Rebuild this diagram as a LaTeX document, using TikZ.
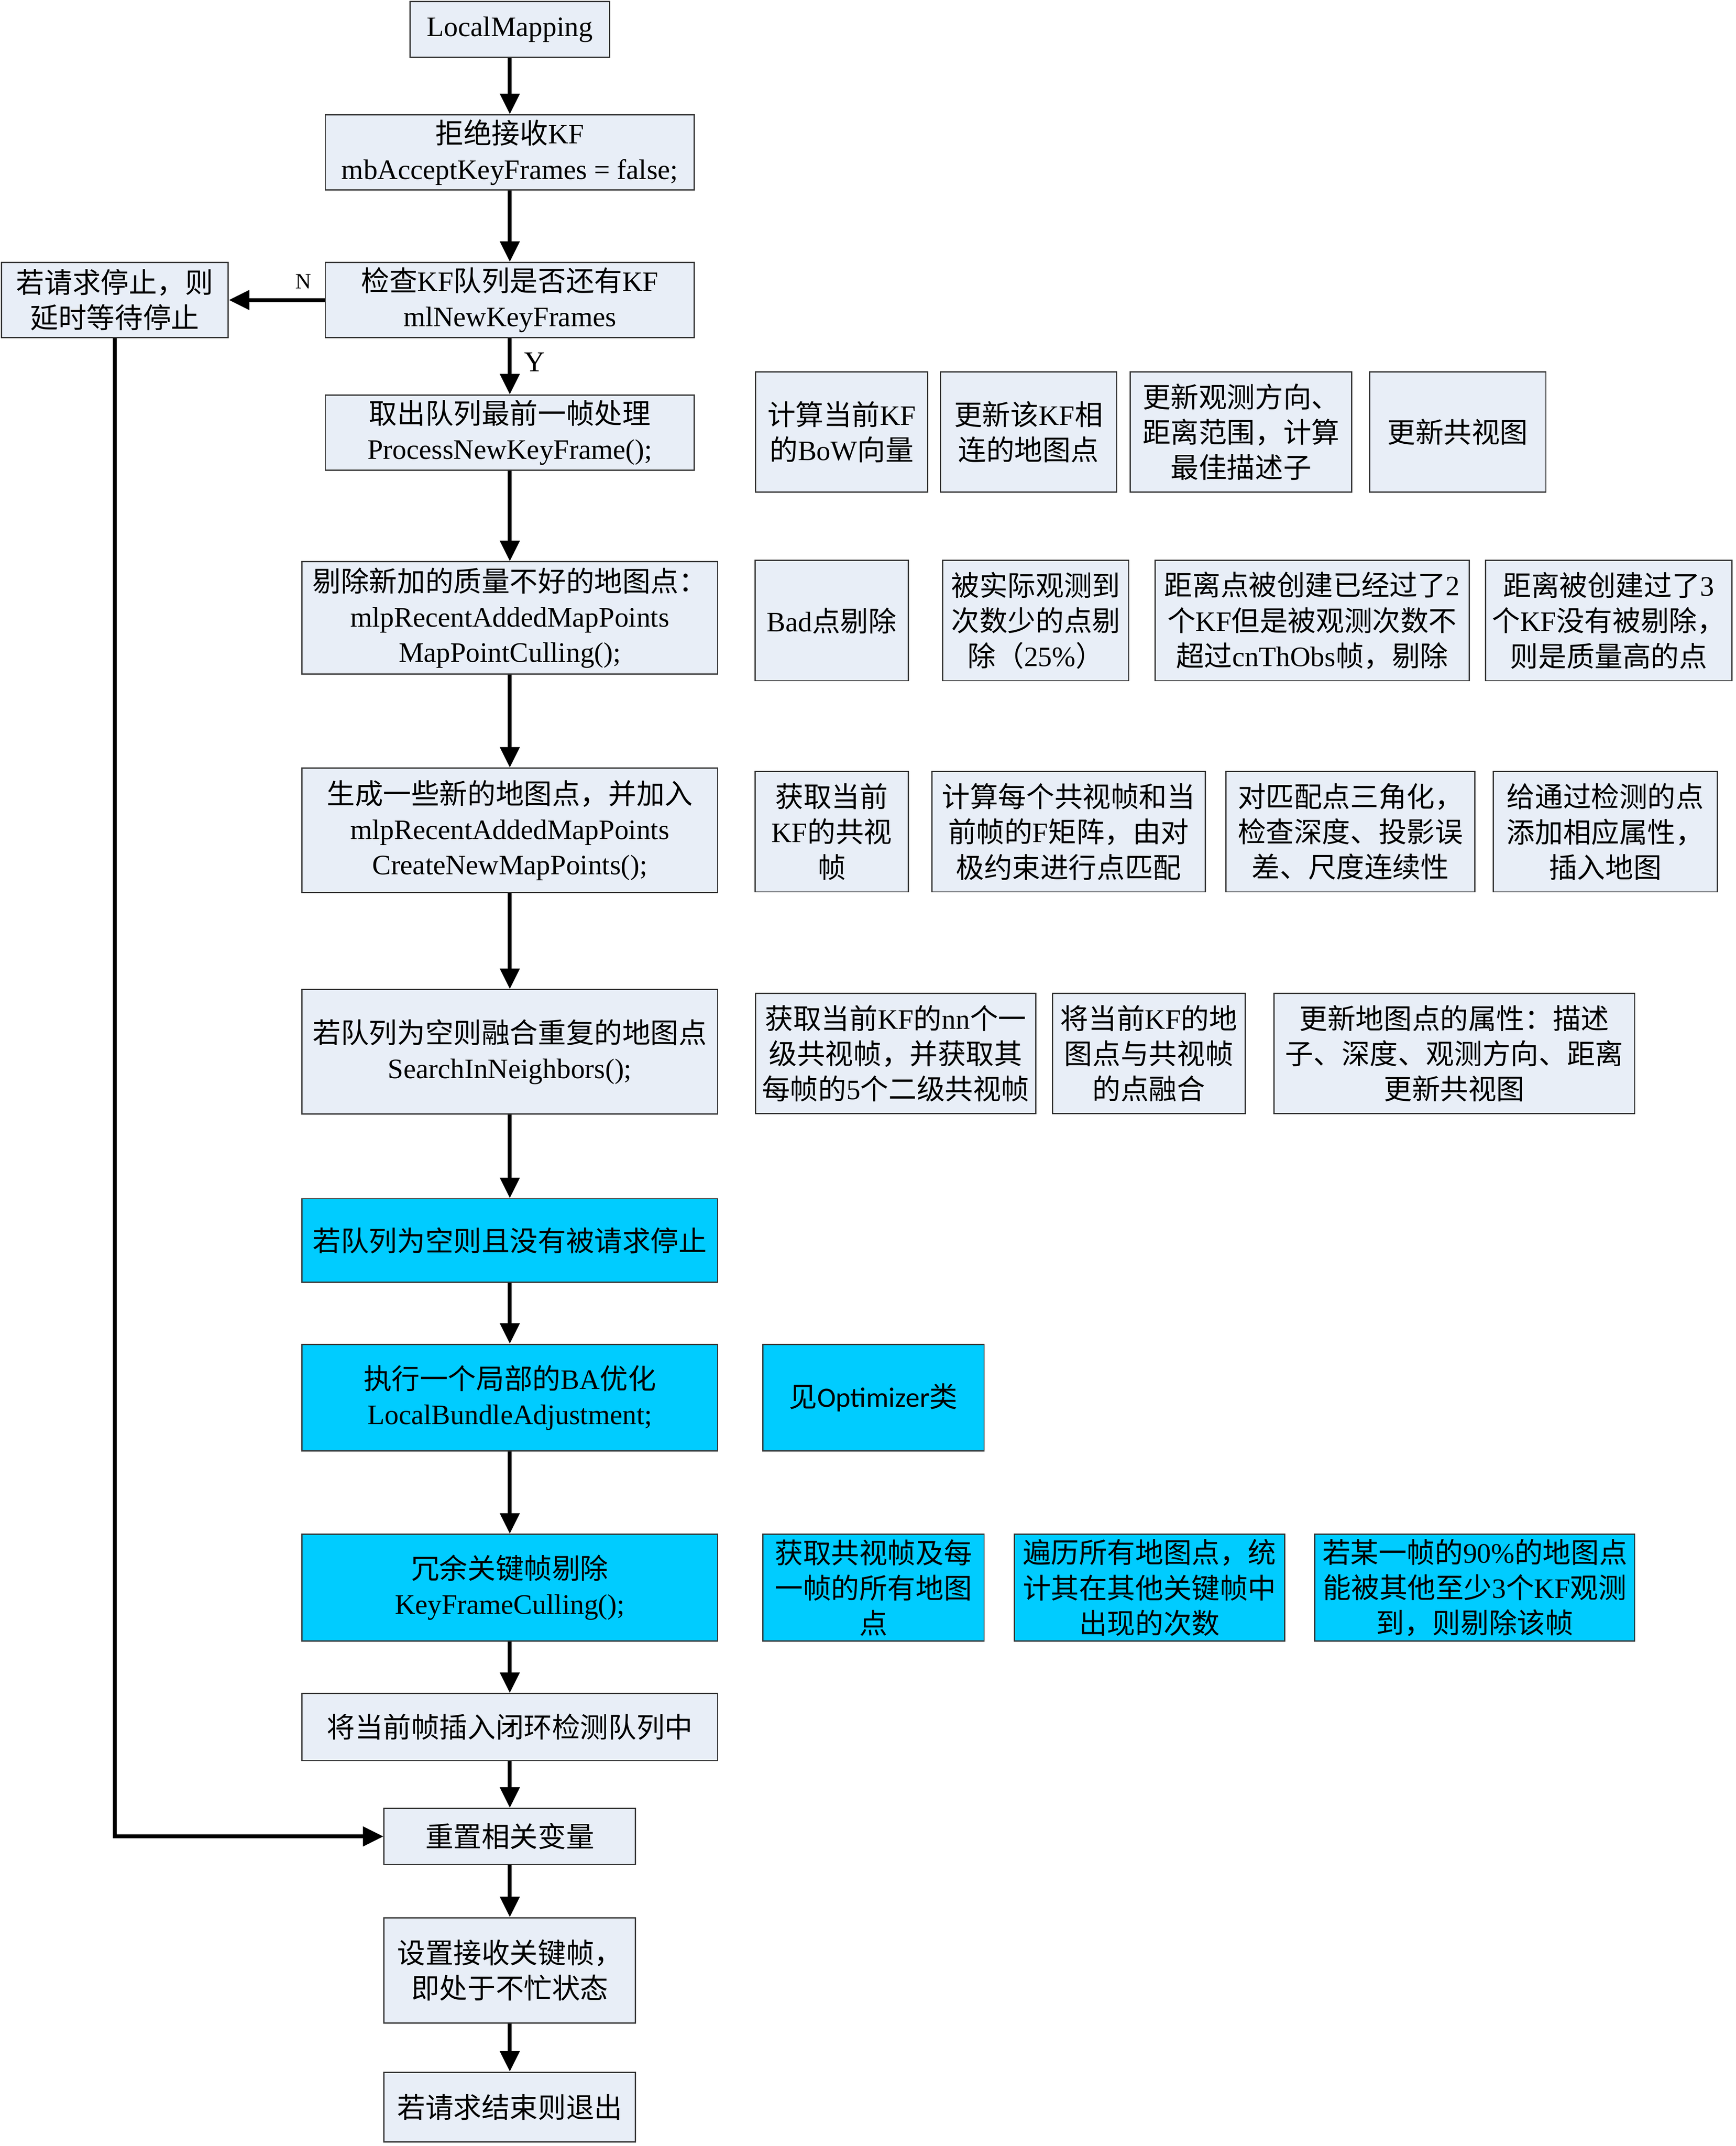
\documentclass[tikz,border=0pt]{standalone}
\usepackage{fontspec}
\usepackage{graphicx}
\setmainfont{Liberation Serif}
\newfontfamily\cjkfont{Noto Sans CJK SC}
\newfontfamily\calfont{Carlito}
\usetikzlibrary{arrows.meta}
\XeTeXinterchartokenstate=1
\newXeTeXintercharclass\CJKcls
\makeatletter
\newcount\cjk@c
\def\cjk@range#1#2{\cjk@c=#1\relax\loop\XeTeXcharclass\cjk@c=\CJKcls\relax\ifnum\cjk@c<#2\relax\advance\cjk@c by 1\relax\repeat}
\cjk@range{"3000}{"303F}
\cjk@range{"4E00}{"9FFF}
\cjk@range{"FF00}{"FFEF}
\makeatother
\XeTeXinterchartoks 0 \CJKcls = {\begingroup\cjkfont}
\XeTeXinterchartoks 4095 \CJKcls = {\begingroup\cjkfont}
\XeTeXinterchartoks \CJKcls 0 = {\endgroup}
\XeTeXinterchartoks \CJKcls 4095 = {\endgroup}
\definecolor{boxfill}{HTML}{E8EEF7}
\definecolor{cyanfill}{HTML}{00CCFF}
\tikzset{
  box/.style={draw=black!80, line width=0.9pt, fill=boxfill, rectangle, inner sep=2pt,
    align=center, font=\fontsize{20.6}{25.8}\selectfont},
  cbox/.style={box, fill=cyanfill},
  sz/.style 2 args={minimum width=#1, minimum height=#2},
  arr/.style={line width=2.8pt, line join=miter, -{Triangle[length=15pt,width=14pt]}},
  lbl/.style={inner sep=0pt}
}
\begin{document}
\begin{tikzpicture}[x=1pt,y=-1pt]
\useasboundingbox (0,0) rectangle (1270,1570);
\fill[white] (0,0) rectangle (1270,1570);
% main column
\node[box,sz={146}{41}] (b1) at (373,21.5) {LocalMapping};
\node[box,sz={270}{55}] (b2) at (373,111.5) {拒绝接收KF\\mbAcceptKeyFrames = false;};
\node[box,sz={270}{55}] (b3) at (373,219.5) {检查KF队列是否还有KF\\mlNewKeyFrames};
\node[box,sz={166}{55}] (b4) at (84,219.5) {若请求停止，则\\延时等待停止};
\node[box,sz={270}{55}] (b5) at (373,316.5) {取出队列最前一帧处理\\ProcessNewKeyFrame();};
\node[box,sz={304}{82}] (b6) at (373,452) {剔除新加的质量不好的地图点：\\mlpRecentAddedMapPoints\\MapPointCulling();};
\node[box,sz={304}{91}] (b7) at (373,607.5) {生成一些新的地图点，并加入\\mlpRecentAddedMapPoints\\CreateNewMapPoints();};
\node[box,sz={304}{91}] (b8) at (373,769.5) {若队列为空则融合重复的地图点\\SearchInNeighbors();};
\node[cbox,sz={304}{61}] (b9) at (373,907.5) {若队列为空则且没有被请求停止};
\node[cbox,sz={304}{78}] (b10) at (373,1022.5) {执行一个局部的BA优化\\LocalBundleAdjustment;};
\node[cbox,sz={304}{78}] (b11) at (373,1161.5) {冗余关键帧剔除\\KeyFrameCulling();};
\node[box,sz={304}{49}] (b12) at (373,1263.5) {将当前帧插入闭环检测队列中};
\node[box,sz={184}{41}] (b13) at (373,1343.5) {重置相关变量};
\node[box,sz={184}{77}] (b14) at (373,1441.5) {设置接收关键帧，\\即处于不忙状态};
\node[box,sz={184}{51}] (b15) at (373,1541.5) {若请求结束则退出};
% side row 1
\node[box,sz={126}{88}] (s1a) at (615.8,316) {计算当前KF\\的BoW向量};
\node[box,sz={129}{88}] (s1b) at (752.5,316) {更新该KF相\\连的地图点};
\node[box,sz={162}{88}] (s1c) at (908,316) {更新观测方向、\\距离范围，计算\\最佳描述子};
\node[box,sz={129}{88}] (s1d) at (1066.5,316) {更新共视图};
% side row 2
\node[box,sz={112}{88}] (s2a) at (608.5,454) {Bad点剔除};
\node[box,sz={136}{88}] (s2b) at (757.8,454) {被实际观测到\\次数少的点剔\\除（25\%）};
\node[box,sz={230}{88}] (s2c) at (960,454) {距离点被创建已经过了2\\个KF但是被观测次数不\\超过cnThObs帧，剔除};
\node[box,sz={180}{88}] (s2d) at (1177,454) {距离被创建过了3\\个KF没有被剔除，\\则是质量高的点};
% side row 3
\node[box,sz={112}{88}] (s3a) at (608.5,608.5) {获取当前\\KF的共视\\帧};
\node[box,sz={200}{88}] (s3b) at (781.8,608.5) {计算每个共视帧和当\\前帧的F矩阵，由对\\极约束进行点匹配};
\node[box,sz={182}{88}] (s3c) at (988,608.5) {对匹配点三角化，\\检查深度、投影误\\差、尺度连续性};
\node[box,sz={164}{88}] (s3d) at (1174.5,608.5) {给通过检测的点\\添加相应属性，\\插入地图};
% side row 4
\node[box,sz={205}{88}] (s4a) at (655.3,770.7) {获取当前KF的nn个一\\级共视帧，并获取其\\每帧的5个二级共视帧};
\node[box,sz={141}{88}] (s4b) at (840.5,770.7) {将当前KF的地\\图点与共视帧\\的点融合};
\node[box,sz={264}{88}] (s4c) at (1064,770.7) {更新地图点的属性：描述\\子、深度、观测方向、距离\\更新共视图};
% cyan side boxes
\node[cbox,sz={162}{78}] (c1) at (639,1022.5) {见{\calfont Optimizer}类};
\node[cbox,sz={162}{78}] (c2) at (639,1161.5) {获取共视帧及每\\一帧的所有地图\\点};
\node[cbox,sz={198}{78}] (c3) at (841,1161.5) {遍历所有地图点，统\\计其在其他关键帧中\\出现的次数};
\node[cbox,sz={234}{78}] (c4) at (1079,1161.5) {若某一帧的90\%的地图点\\能被其他至少3个KF观测\\到，则剔除该帧};
% labels
\node[lbl,font=\fontsize{16}{18}\selectfont] (lN) at (222,206) {N};
\node[lbl,font=\fontsize{21}{24}\selectfont] (lY) at (391,265) {Y};
% connectors
\draw[arr] (b1) -- (b2);
\draw[arr] (b2) -- (b3);
\draw[arr] (b3) -- (b4);
\draw[arr] (b3) -- (b5);
\draw[arr] (b5) -- (b6);
\draw[arr] (b6) -- (b7);
\draw[arr] (b7) -- (b8);
\draw[arr] (b8) -- (b9);
\draw[arr] (b9) -- (b10);
\draw[arr] (b10) -- (b11);
\draw[arr] (b11) -- (b12);
\draw[arr] (b12) -- (b13);
\draw[arr] (b13) -- (b14);
\draw[arr] (b14) -- (b15);
\draw[arr] (b4.south) |- (b13.west);
\end{tikzpicture}
\end{document}
